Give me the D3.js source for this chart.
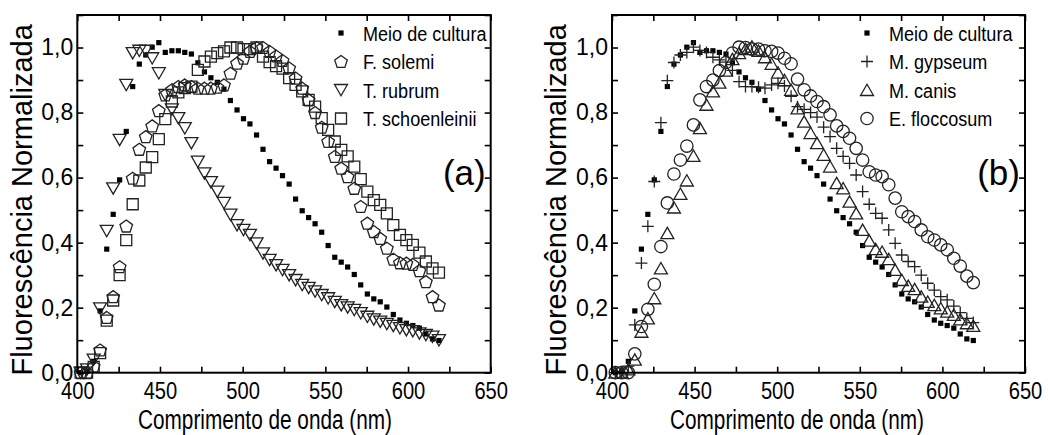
<!DOCTYPE html>
<html><head><meta charset="utf-8">
<script src="https://cdn.jsdelivr.net/npm/d3@7"></script>
<style>
html,body{margin:0;padding:0;background:#fff;}
svg{display:block;}
text{font-family:"Liberation Sans",Arial,Helvetica,sans-serif;fill:#000;}
</style></head>
<body>
<svg id="chart" width="1048" height="435"></svg>
<script>
// ---------- DATA ----------
const wavelength = [402.0,405.9,409.9,413.8,417.8,421.7,425.6,429.6,433.5,437.5,441.4,445.3,449.3,453.2,457.2,461.1,465.0,469.0,472.9,476.9,480.8,484.7,488.7,492.6,496.6,500.5,504.4,508.4,512.3,516.3,520.2,524.1,528.1,532.0,536.0,539.9,543.8,547.8,551.7,555.7,559.6,563.5,567.5,571.4,575.4,579.3,583.2,587.2,591.1,595.1,599.0,602.9,606.9,610.8,614.8,618.7];
const meioDeCultura = [0.0,0.005,0.035,0.19,0.38,0.487,0.593,0.742,0.88,0.949,0.977,1.001,1.015,0.985,0.99,0.99,0.985,0.98,0.953,0.925,0.907,0.893,0.872,0.837,0.808,0.781,0.765,0.731,0.687,0.649,0.629,0.606,0.58,0.534,0.498,0.477,0.458,0.432,0.391,0.355,0.34,0.325,0.302,0.27,0.242,0.227,0.218,0.202,0.179,0.162,0.152,0.145,0.137,0.119,0.104,0.099];
const fSolemi = [0.0,0.0,0.02,0.07,0.17,0.234,0.326,0.451,0.598,0.687,0.726,0.759,0.806,0.854,0.87,0.88,0.885,0.88,0.875,0.875,0.875,0.878,0.885,0.921,0.952,0.967,0.988,1.0,1.0,0.988,0.974,0.96,0.937,0.906,0.875,0.839,0.80,0.755,0.711,0.665,0.629,0.603,0.567,0.511,0.46,0.434,0.413,0.383,0.349,0.338,0.337,0.333,0.314,0.28,0.234,0.208];
const tRubrum = [0.0,0.01,0.04,0.198,0.436,0.567,0.716,0.885,0.983,0.99,0.99,0.967,0.921,0.854,0.81,0.783,0.752,0.706,0.649,0.613,0.586,0.557,0.522,0.486,0.454,0.439,0.424,0.398,0.367,0.347,0.331,0.316,0.30,0.285,0.27,0.261,0.25,0.239,0.229,0.218,0.208,0.201,0.193,0.183,0.172,0.164,0.157,0.15,0.144,0.137,0.131,0.128,0.121,0.116,0.111,0.10];
const tSchoenleinii = [0.0,0.0,0.018,0.06,0.16,0.222,0.30,0.408,0.518,0.591,0.631,0.663,0.718,0.78,0.834,0.862,0.875,0.88,0.931,0.957,0.972,0.983,0.988,1.0,1.0,0.995,0.995,1.0,0.972,0.955,0.943,0.935,0.906,0.885,0.865,0.839,0.818,0.783,0.747,0.711,0.685,0.665,0.634,0.595,0.557,0.531,0.516,0.49,0.454,0.424,0.408,0.393,0.369,0.342,0.321,0.308];
const mGypseum = [0.0,0.0,0.02,0.147,0.337,0.45,0.588,0.769,0.898,0.954,0.977,0.985,1.001,0.991,0.985,0.97,0.962,0.955,0.93,0.895,0.88,0.88,0.878,0.875,0.885,0.89,0.882,0.85,0.818,0.81,0.80,0.786,0.755,0.726,0.69,0.665,0.644,0.608,0.557,0.518,0.49,0.475,0.439,0.398,0.362,0.342,0.326,0.30,0.275,0.254,0.234,0.224,0.205,0.185,0.167,0.154];
const mCanis = [0.0,0.0,0.01,0.04,0.126,0.167,0.229,0.321,0.429,0.508,0.55,0.591,0.667,0.752,0.824,0.865,0.892,0.929,0.964,0.983,0.995,1.003,0.99,0.97,0.95,0.923,0.9,0.87,0.813,0.772,0.737,0.706,0.67,0.634,0.583,0.567,0.526,0.49,0.439,0.406,0.38,0.372,0.349,0.316,0.285,0.267,0.257,0.234,0.218,0.208,0.198,0.188,0.178,0.164,0.152,0.144];
const eFloccosum = [0.0,0.0,0.0,0.058,0.142,0.195,0.272,0.388,0.522,0.611,0.654,0.697,0.762,0.839,0.88,0.9,0.929,0.954,0.983,1.001,1.0,0.995,0.995,0.99,0.988,0.983,0.967,0.95,0.903,0.87,0.851,0.834,0.818,0.793,0.759,0.742,0.721,0.69,0.654,0.618,0.608,0.603,0.578,0.537,0.495,0.48,0.465,0.439,0.418,0.408,0.393,0.378,0.352,0.328,0.297,0.277];

const xMajorTicks = [400,450,500,550,600,650];
const xMinorTicks = [425,475,525,575,625];
const yMajorTicks = [0,0.2,0.4,0.6,0.8,1.0];
const yMinorTicks = [0.1,0.3,0.5,0.7,0.9,1.1];
const yTickLabels = ["0,0","0,2","0,4","0,6","0,8","1,0"];
const xTitle = "Comprimento de onda (nm)";
const yTitle = "Fluorescência Normalizada";

const legendA = ["Meio de cultura","F. solemi","T. rubrum","T. schoenleinii"];
const legendB = ["Meio de cultura","M. gypseum","M. canis","E. floccosum"];

// ---------- MARKERS ----------
function polyPath(pts){return "M"+pts.map(p=>p[0].toFixed(2)+","+p[1].toFixed(2)).join("L")+"Z";}
const markers = {
  smallSquare: {d: polyPath([[-2.6,-2.6],[2.6,-2.6],[2.6,2.6],[-2.6,2.6]]), fill:"#000", stroke:"none"},
  pentagon: {d: polyPath(d3.range(5).map(i=>{const a=(-90+72*i)*Math.PI/180;return [6.6*Math.cos(a),6.6*Math.sin(a)+0.6];})), fill:"none", stroke:"#222"},
  triDown: {d: polyPath([[-6.5,-5.5],[6.5,-5.5],[0,5.8]]), fill:"none", stroke:"#222"},
  square: {d: polyPath([[-5.5,-5.5],[5.5,-5.5],[5.5,5.5],[-5.5,5.5]]), fill:"none", stroke:"#222"},
  plus: {d: "M-6,0H6M0,-6V6", fill:"none", stroke:"#222"},
  triUp: {d: polyPath([[-6.5,5.5],[6.5,5.5],[0,-5.8]]), fill:"none", stroke:"#222"},
  circle: {d: d3.symbol(d3.symbolCircle, Math.PI*6.2*6.2)(), fill:"none", stroke:"#222"}
};

const svg = d3.select("#chart");
const yTop = 15, yBot = 372.7;

function drawPanel(cfg){
  const x = d3.scaleLinear().domain([400,650]).range([cfg.x0,cfg.x1]);
  const y = d3.scaleLinear().domain([0,1.1]).range([yBot,yTop]);
  const g = svg.append("g");

  cfg.series.forEach(s=>{
    const m = markers[s.marker];
    g.append("g").selectAll("path").data(wavelength.map((w,i)=>[w,s.values[i]])).join("path")
      .attr("d", m.d)
      .attr("transform", d=>`translate(${x(d[0])},${y(d[1])})`)
      .attr("fill", m.fill).attr("stroke", m.stroke).attr("stroke-width", 1.3);
  });

  const tick = 6;
  const bottom = g.append("g").attr("transform",`translate(0,${yBot})`)
    .call(d3.axisBottom(x).tickValues(xMajorTicks).tickSize(-tick).tickPadding(9).tickFormat(d3.format("d")));
  g.append("g").attr("transform",`translate(0,${yBot})`)
    .call(d3.axisBottom(x).tickValues(xMinorTicks).tickSize(-tick).tickFormat(""));
  g.append("g").attr("transform",`translate(0,${yTop})`)
    .call(d3.axisTop(x).tickValues(xMajorTicks.concat(xMinorTicks)).tickSize(-tick).tickFormat(""));
  const left = g.append("g").attr("transform",`translate(${cfg.x0},0)`)
    .call(d3.axisLeft(y).tickValues(yMajorTicks).tickSize(-tick).tickPadding(4).tickFormat((d,i)=>yTickLabels[i]));
  g.append("g").attr("transform",`translate(${cfg.x0},0)`)
    .call(d3.axisLeft(y).tickValues(yMinorTicks).tickSize(-tick).tickFormat(""));
  g.append("g").attr("transform",`translate(${cfg.x1},0)`)
    .call(d3.axisRight(y).tickValues(yMajorTicks.concat(yMinorTicks)).tickSize(-tick).tickFormat(""));
  g.selectAll(".domain").remove();
  g.selectAll(".tick line").attr("stroke","#000").attr("stroke-width",1.6);

  bottom.selectAll(".tick text").attr("font-size",24).attr("fill","#000")
    .attr("font-family","Liberation Sans, Arial, sans-serif")
    .attr("dy","0.71em").attr("transform","scale(0.84,1)");
  left.selectAll("text").attr("font-size",23).attr("fill","#000").attr("font-family","Liberation Sans, Arial, sans-serif");

  g.append("rect").attr("x",cfg.x0).attr("y",yTop).attr("width",cfg.x1-cfg.x0).attr("height",yBot-yTop)
    .attr("fill","none").attr("stroke","#000").attr("stroke-width",2);

  g.append("text").attr("transform",`translate(${cfg.xTitleX},429) scale(0.77,1)`)
    .attr("text-anchor","middle").attr("font-size",27).text(xTitle);
  g.append("text").attr("transform",`translate(${cfg.yTitleX},${(yTop+yBot)/2+6}) rotate(-90)`)
    .attr("text-anchor","middle").attr("font-size",29).text(yTitle);

  g.append("text").attr("x",cfg.x1-5).attr("y",185).attr("text-anchor","end").attr("font-size",35).text(cfg.label);

  const lg = g.append("g");
  cfg.legend.forEach((name,i)=>{
    const cy = 33 + i*28.5;
    const m = markers[cfg.series[i].marker];
    lg.append("path").attr("d",m.d).attr("transform",`translate(${cfg.legX},${cy})`)
      .attr("fill",m.fill).attr("stroke",m.stroke).attr("stroke-width",1.3);
    lg.append("text").attr("transform",`translate(${cfg.legX+22},${cy+7.5}) scale(0.86,1)`)
      .attr("font-size",21).text(name);
  });
}

drawPanel({x0:77.3,x1:490.7,label:"(a)",legX:341,xTitleX:265,yTitleX:32,legend:legendA,
  series:[{values:meioDeCultura,marker:"smallSquare"},{values:fSolemi,marker:"pentagon"},{values:tRubrum,marker:"triDown"},{values:tSchoenleinii,marker:"square"}]});
drawPanel({x0:612,x1:1025,label:"(b)",legX:867,xTitleX:797,yTitleX:566,legend:legendB,
  series:[{values:meioDeCultura,marker:"smallSquare"},{values:mGypseum,marker:"plus"},{values:mCanis,marker:"triUp"},{values:eFloccosum,marker:"circle"}]});
</script>
</body></html>
